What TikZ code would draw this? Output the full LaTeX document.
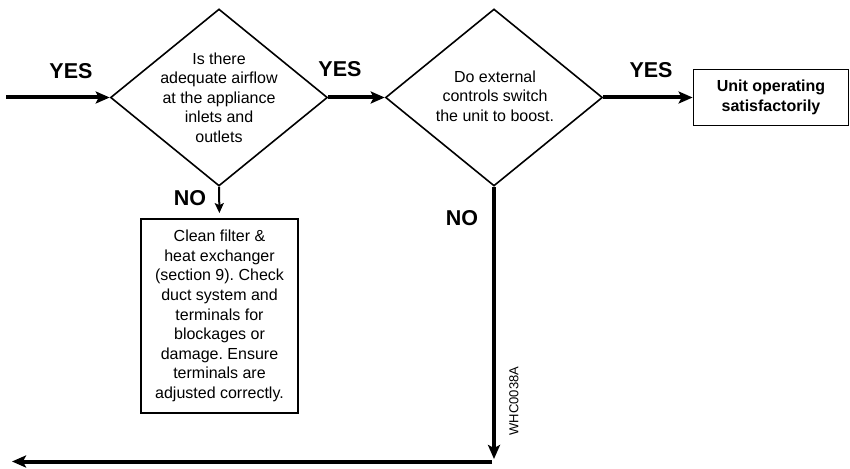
\documentclass[tikz,border=0pt]{standalone}
\usepackage{fontspec}
\setmainfont{Liberation Sans}
\usetikzlibrary{shapes.geometric,arrows.meta}
\frenchspacing
\begin{document}
\begin{tikzpicture}[x=1pt,y=-1pt,
  dia/.style={draw, line width=1.6pt, diamond, minimum width=217pt, minimum height=177pt, inner sep=0pt},
  body/.style={font=\fontsize{16}{19.6}\selectfont, align=center, inner sep=0pt},
  lab/.style={font=\fontsize{21.5}{24}\selectfont\bfseries, inner sep=0pt},
  bigarrow/.style={line width=4pt, -{Stealth[length=14pt,width=12pt,inset=3pt]}},
  smallarrow/.style={line width=2pt, -{Stealth[length=10pt,width=9pt,inset=2pt]}},
  box/.style={draw, line width=1.8pt, inner sep=0pt}
]
\useasboundingbox (0,0) rectangle (850,468);

% decision diamonds
\node[dia] (d1) at (219,97.5) {};
\node[body] (t1) at (d1.center) {Is there\\adequate airflow\\at the appliance\\inlets and\\outlets};
\node[dia] (d2) at (494,97.5) {};
\node[body] (t2) at (495,96) {Do external\\controls switch\\the unit to boost.};

% boxes
\node[box, minimum width=155pt, minimum height=56pt] (b1) at (771,97.5) {};
\node[body, font=\fontsize{16}{20}\selectfont\bfseries] (t3) at (b1.center) {Unit operating\\satisfactorily};
\node[box, minimum width=157pt, minimum height=194pt] (b2) at (219.5,316) {};
\node[body] (t4) at (b2.center) {Clean filter \&\\heat exchanger\\(section 9). Check\\duct system and\\terminals for\\blockages or\\damage. Ensure\\terminals are\\adjusted correctly.};

% labels
\node[lab] (y1) at (71,71) {YES};
\node[lab] (y2) at (340,69) {YES};
\node[lab] (y3) at (651,70) {YES};
\node[lab] (n1) at (190,198) {NO};
\node[lab] (n2) at (462,218) {NO};
\node[inner sep=0pt, rotate=90, font=\fontsize{13}{15}\selectfont] (code) at (514,401) {WHC0038A};

% connectors
\coordinate (in) at (6,97.5);
\draw[bigarrow] (in) -- (d1.west);
\draw[bigarrow] (d1.east) -- (d2.west);
\draw[bigarrow] (d2.east) -- (b1.west);
\draw[smallarrow, shorten >=5pt] (d1.south) -- (b2.north);
\coordinate (down) at (494,459);
\draw[bigarrow] (d2.south) -- (down);
\coordinate (r) at (492,461.5);
\coordinate (l) at (12,461.5);
\draw[bigarrow] (r) -- (l);
\end{tikzpicture}
\end{document}
